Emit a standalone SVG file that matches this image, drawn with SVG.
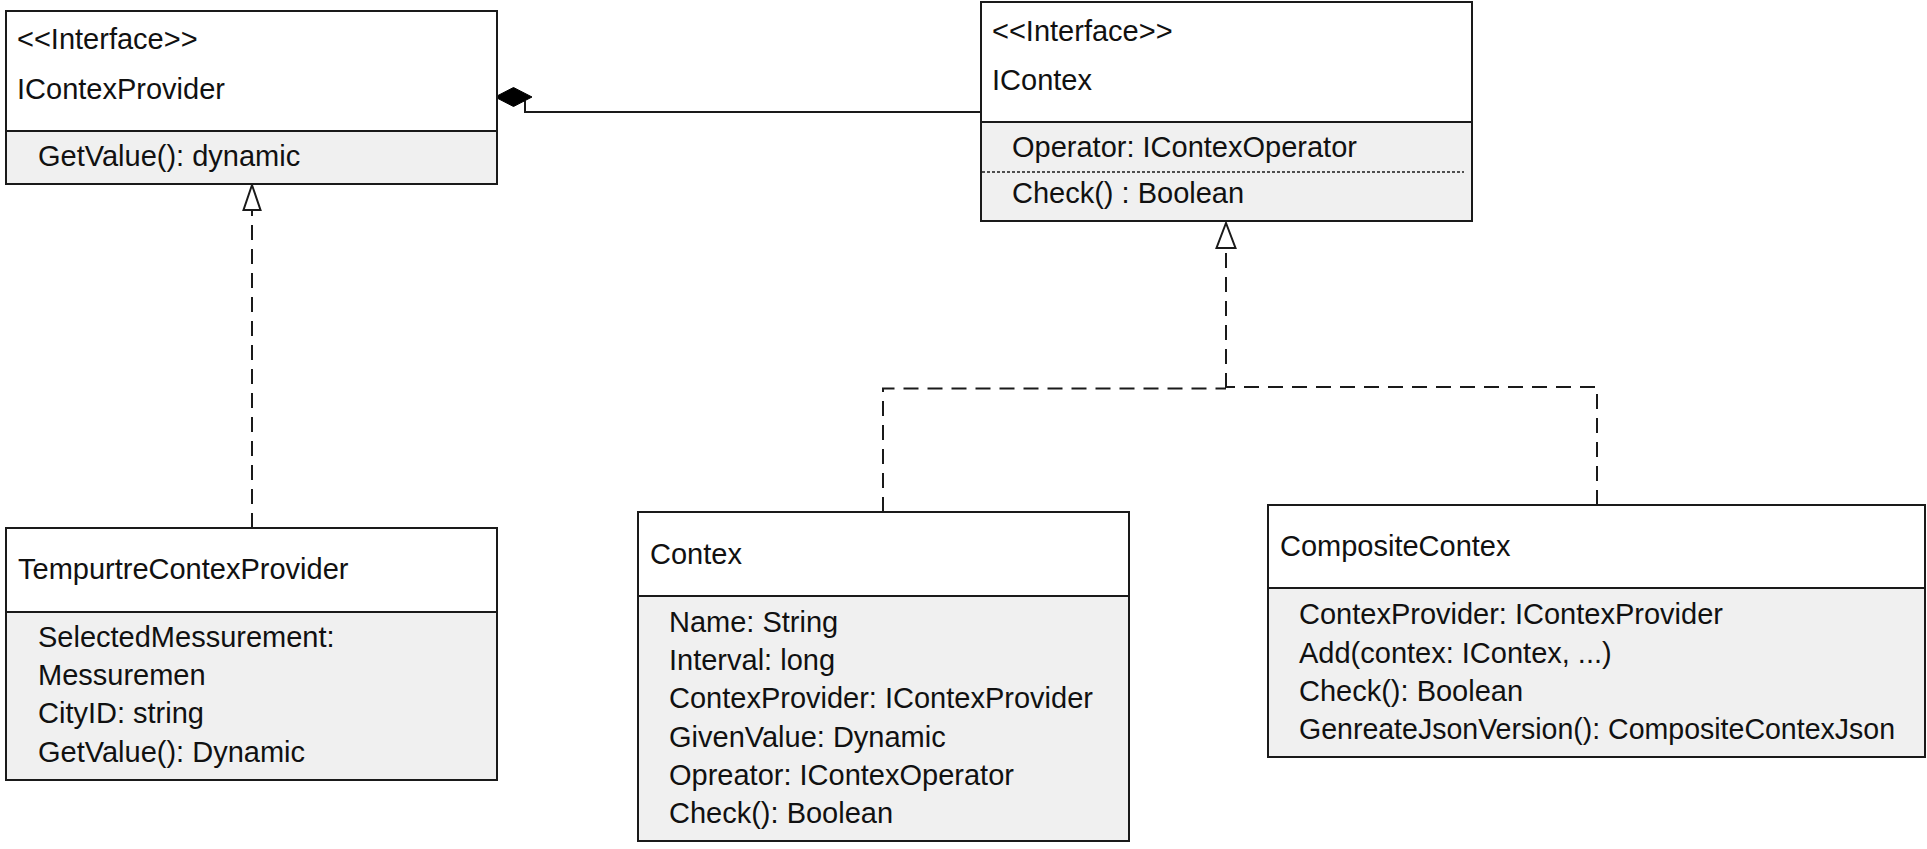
<svg xmlns="http://www.w3.org/2000/svg" width="1927" height="849" viewBox="0 0 1927 849">
  <style>
    .hdr { fill: #ffffff; stroke: #1a1a1a; stroke-width: 2; }
    .body { fill: #f0f0f0; stroke: #1a1a1a; stroke-width: 2; }
    .sep { stroke: #1a1a1a; stroke-width: 1.5; stroke-dasharray: 3 2; fill: none; }
    text { font-family: "Liberation Sans", Arial, sans-serif; font-size: 29px; fill: #111111; }
    .solid { stroke: #1a1a1a; stroke-width: 2; fill: none; }
    .dash { stroke: #1a1a1a; stroke-width: 2; fill: none; stroke-dasharray: 15 9; }
    .tri { fill: #ffffff; stroke: #1a1a1a; stroke-width: 2; }
    .dia { fill: #000000; stroke: #000000; stroke-width: 1; }
  </style>

  <g id="connectors">
    <!-- composition IContex -> IContexProvider -->
    <path class="solid" d="M 980 112 H 525 V 100.5"/>
    <polygon class="dia" points="495,97 513.5,87.5 532,97 513.5,106.5"/>
    <!-- realization TempurtreContexProvider -> IContexProvider -->
    <path class="dash" d="M 252 528 V 210"/>
    <polygon class="tri" points="252,185 243.5,210 260.5,210"/>
    <!-- realization Contex / CompositeContex -> IContex -->
    <path class="dash" d="M 883 512 V 388.5 H 1226"/>
    <path class="dash" d="M 1597 505 V 387 H 1226"/>
    <path class="dash" d="M 1226 388 V 248"/>
    <polygon class="tri" points="1226,223 1216.5,248 1235.5,248"/>
  </g>

  <g id="IContexProvider">
    <rect class="hdr" x="6" y="11" width="491" height="120"/>
    <rect class="body" x="6" y="131" width="491" height="53"/>
    <text x="17" y="49">&lt;&lt;Interface&gt;&gt;</text>
    <text x="17" y="99">IContexProvider</text>
    <text x="38" y="166">GetValue(): dynamic</text>
  </g>

  <g id="IContex">
    <rect class="hdr" x="981" y="2" width="491" height="120"/>
    <rect class="body" x="981" y="122" width="491" height="99"/>
    <line class="sep" x1="982" y1="172" x2="1464" y2="172"/>
    <text x="992" y="41">&lt;&lt;Interface&gt;&gt;</text>
    <text x="992" y="90">IContex</text>
    <text x="1012" y="157">Operator: IContexOperator</text>
    <text x="1012" y="203">Check() : Boolean</text>
  </g>

  <g id="TempurtreContexProvider">
    <rect class="hdr" x="6" y="528" width="491" height="84"/>
    <rect class="body" x="6" y="612" width="491" height="168"/>
    <text x="18" y="579">TempurtreContexProvider</text>
    <text x="38" y="647">SelectedMessurement:</text>
    <text x="38" y="685">Messuremen</text>
    <text x="38" y="723">CityID: string</text>
    <text x="38" y="762">GetValue(): Dynamic</text>
  </g>

  <g id="Contex">
    <rect class="hdr" x="638" y="512" width="491" height="84"/>
    <rect class="body" x="638" y="596" width="491" height="245"/>
    <text x="650" y="564">Contex</text>
    <text x="669" y="632">Name: String</text>
    <text x="669" y="670">Interval: long</text>
    <text x="669" y="708">ContexProvider: IContexProvider</text>
    <text x="669" y="747">GivenValue: Dynamic</text>
    <text x="669" y="785">Opreator: IContexOperator</text>
    <text x="669" y="823">Check(): Boolean</text>
  </g>

  <g id="CompositeContex">
    <rect class="hdr" x="1268" y="505" width="657" height="83"/>
    <rect class="body" x="1268" y="588" width="657" height="169"/>
    <text x="1280" y="556">CompositeContex</text>
    <text x="1299" y="624">ContexProvider: IContexProvider</text>
    <text x="1299" y="663">Add(contex: IContex, ...)</text>
    <text x="1299" y="701">Check(): Boolean</text>
    <text x="1299" y="739" textLength="596" lengthAdjust="spacingAndGlyphs">GenreateJsonVersion(): CompositeContexJson</text>
  </g>
</svg>
